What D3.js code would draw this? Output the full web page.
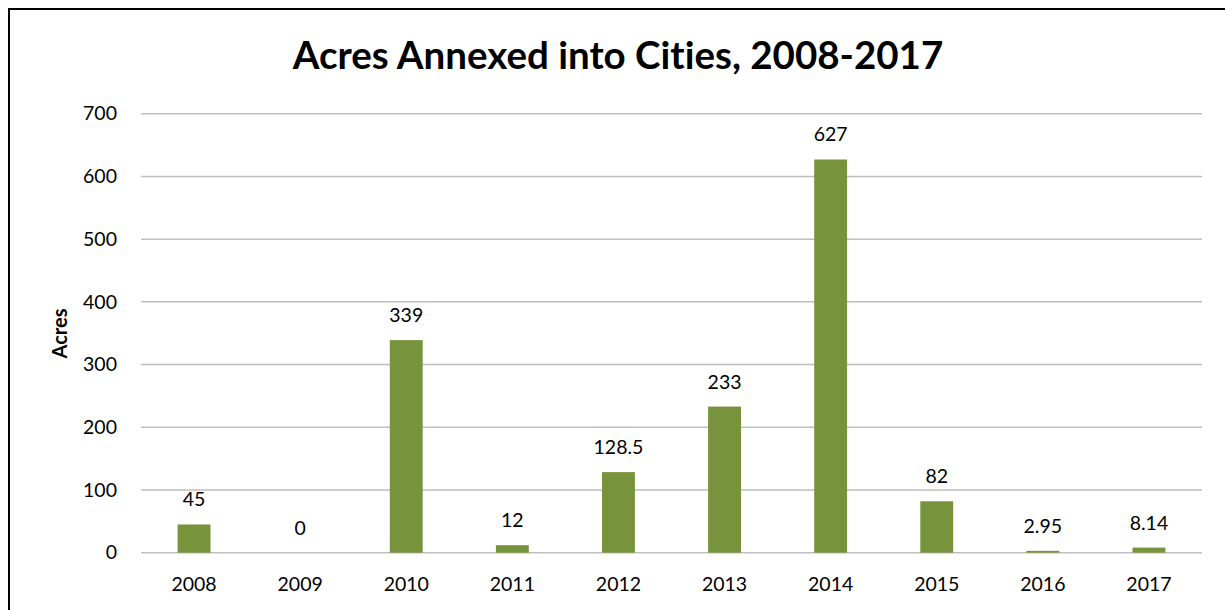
<!DOCTYPE html>
<html><head><meta charset="utf-8">
<script src="https://cdn.jsdelivr.net/npm/d3@7"></script>
<style>body{margin:0;background:#fff}svg{display:block}text{font-family:Lato,"Open Sans",sans-serif;font-variant-ligatures:none;font-feature-settings:"liga" 0}</style>
</head><body><svg id="c" width="1225" height="610"></svg>
<script>
const categories = ["2008","2009","2010","2011","2012","2013","2014","2015","2016","2017"];
const values = [45, 0, 339, 12, 128.5, 233, 627, 82, 2.95, 8.14];
const labels = ["45","0","339","12","128.5","233","627","82","2.95","8.14"];
const yTicks = [0,100,200,300,400,500,600,700];
const title = "Acres Annexed into Cities, 2008-2017";
const yTitle = "Acres";

const svg = d3.select("#c");
svg.append("rect").attr("x",9).attr("y",9).attr("width",1240).attr("height",640)
  .attr("fill","#fff").attr("stroke","#000").attr("stroke-width",2);

const L=141, R=1202, T=113.7, B=552.7;
const x = d3.scaleBand().domain(categories).range([L,R]).paddingInner(0.69).paddingOuter(0.345);
const y = d3.scaleLinear().domain([0,700]).range([B,T]);

const g = svg.append("g");
g.selectAll("line.grid").data(yTicks).join("line").attr("class","grid")
  .attr("x1",L).attr("x2",R).attr("y1",d=>y(d)).attr("y2",d=>y(d))
  .attr("stroke","#BFBFBF").attr("stroke-width",1.5);

const yAxis = d3.axisLeft(y).tickValues(yTicks).tickSize(0).tickPadding(24);
const ya = svg.append("g").attr("transform",`translate(${L},0)`).call(yAxis);
ya.select(".domain").remove();
ya.selectAll("text").attr("font-size",19.5).attr("fill","#000").attr("font-family","Lato,sans-serif");

const xAxis = d3.axisBottom(x).tickSize(0).tickPadding(24);
const xa = svg.append("g").attr("transform",`translate(0,${B})`).call(xAxis);
xa.select(".domain").remove();
xa.selectAll("text").attr("font-size",19.5).attr("fill","#000").attr("font-family","Lato,sans-serif");

g.selectAll("rect.bar").data(values).join("rect").attr("class","bar")
  .attr("x",(d,i)=>x(categories[i])).attr("width",x.bandwidth())
  .attr("y",d=>y(d)).attr("height",d=>B-y(d)).attr("fill","#77933C");

g.selectAll("text.lbl").data(values).join("text").attr("class","lbl")
  .attr("x",(d,i)=>x(categories[i])+x.bandwidth()/2).attr("y",d=>y(d)-18)
  .attr("text-anchor","middle").attr("font-size",19.5).attr("fill","#000")
  .text((d,i)=>labels[i]);

svg.append("text").attr("x",618).attr("y",68.5).attr("text-anchor","middle")
  .attr("font-size",38.5).attr("font-weight","bold").text(title);

svg.append("text").attr("transform","translate(67,333.5) rotate(-90)").attr("text-anchor","middle")
  .attr("font-size",20).attr("font-weight","bold").text(yTitle);
</script></body></html>
